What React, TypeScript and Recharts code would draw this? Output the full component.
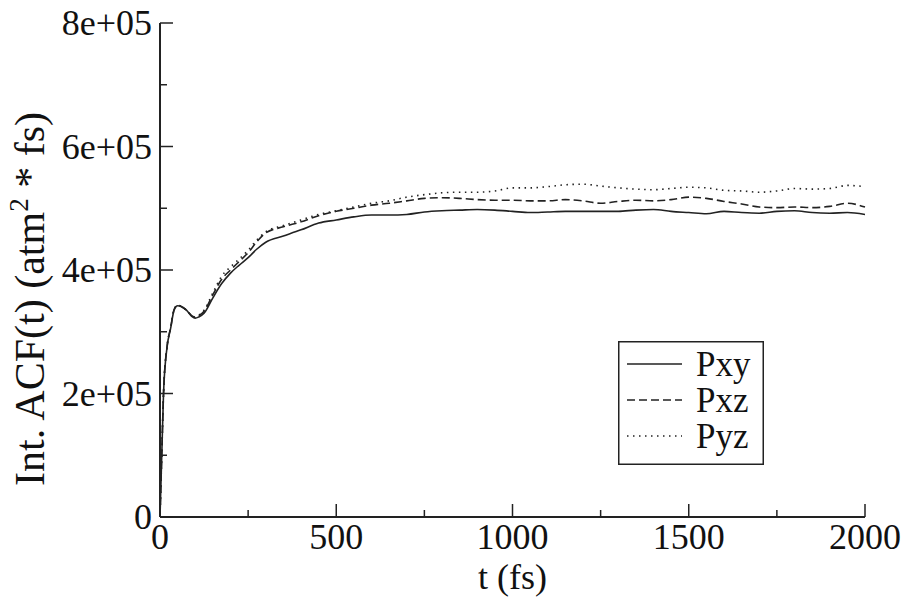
import React from 'react';
import { LineChart, Line, XAxis, YAxis, Legend } from 'recharts';

const times = [0, 5, 10, 20, 30, 40, 50, 60, 75, 90, 100, 110, 125, 150, 175, 200, 225, 250, 275, 300, 350, 400, 450, 500, 550, 600, 650, 700, 750, 800, 850, 900, 950, 1000, 1050, 1100, 1150, 1200, 1250, 1300, 1350, 1400, 1450, 1500, 1550, 1600, 1650, 1700, 1750, 1800, 1850, 1900, 1950, 2000];

const pxy = [0, 100000, 200000, 275000, 305000, 335000, 342000, 341000, 335000, 325000, 322000, 324000, 330000, 355000, 378000, 395000, 408000, 420000, 434000, 445000, 455000, 465000, 476000, 481000, 486000, 489000, 489000, 490000, 494000, 496000, 497000, 498000, 497000, 495000, 493000, 494000, 495000, 495000, 495000, 495000, 497000, 498000, 495000, 493000, 491000, 495000, 493000, 492000, 495000, 496000, 493000, 492000, 493000, 490000];

const pxz = [0, 100000, 200000, 276000, 306000, 336000, 343000, 341000, 335000, 326000, 323000, 326000, 333000, 360000, 385000, 400000, 414000, 428000, 446000, 460000, 470000, 478000, 488000, 495000, 500000, 505000, 508000, 512000, 516000, 517000, 516000, 514000, 513000, 513000, 512000, 512000, 514000, 512000, 508000, 511000, 513000, 512000, 514000, 518000, 516000, 511000, 507000, 502000, 501000, 502000, 501000, 503000, 508000, 502000];

const pyz = [0, 100000, 200000, 276000, 306000, 336000, 343000, 341000, 335000, 326000, 324000, 327000, 335000, 363000, 390000, 405000, 418000, 432000, 449000, 462000, 472000, 481000, 490000, 496000, 502000, 508000, 512000, 518000, 522000, 525000, 526000, 526000, 528000, 533000, 533000, 535000, 538000, 539000, 536000, 533000, 531000, 530000, 532000, 534000, 533000, 529000, 528000, 526000, 528000, 532000, 531000, 532000, 537000, 535000];

const seriesNames = ['Pxy', 'Pxz', 'Pyz'];
const seriesDashes = ['', '8 4', '1.5 4.5'];

const xTicks = [0, 250, 500, 750, 1000, 1250, 1500, 1750, 2000];
const xMajorTicks = [0, 500, 1000, 1500, 2000];
const xTickLabels = ['0', '500', '1000', '1500', '2000'];

const yTicks = [0, 100000, 200000, 300000, 400000, 500000, 600000, 700000, 800000];
const yMajorTicks = [0, 200000, 400000, 600000, 800000];
const yTickLabels = ['0', '2e+05', '4e+05', '6e+05', '8e+05'];

const xTitle = 't (fs)';
const yTitleMain = 'Int. ACF(t) (atm';
const yTitleSup = '2';
const yTitleEnd = ' * fs)';

const data = times.map((t, i) => ({ t, Pxy: pxy[i], Pxz: pxz[i], Pyz: pyz[i] }));

const FONT = 'Liberation Serif, Times New Roman, Times, serif';
const INK = '#222';
const MAJOR = 13;
const MINOR = 7;

const txt = (size: number): React.CSSProperties => ({ fontFamily: FONT, fontSize: size });

const BottomTick = (props: any) => {
  const { x, y, payload } = props;
  const idx = xMajorTicks.indexOf(payload.value);
  const major = idx >= 0;
  return (
    <g>
      <line x1={x} y1={y} x2={x} y2={y - (major ? MAJOR : MINOR)} stroke={INK} strokeWidth={1.5} />
      {major && (
        <text x={x} y={y + 32} textAnchor="middle" style={txt(36)} fill="#111">
          {xTickLabels[idx]}
        </text>
      )}
    </g>
  );
};

const TopTick = (props: any) => {
  const { x, y, payload } = props;
  const major = xMajorTicks.indexOf(payload.value) >= 0;
  return <line x1={x} y1={y} x2={x} y2={y + (major ? MAJOR : MINOR)} stroke={INK} strokeWidth={1.5} />;
};

const LeftTick = (props: any) => {
  const { x, y, payload } = props;
  const idx = yMajorTicks.indexOf(payload.value);
  const major = idx >= 0;
  return (
    <g>
      <line x1={x} y1={y} x2={x + (major ? MAJOR : MINOR)} y2={y} stroke={INK} strokeWidth={1.5} />
      {major && (
        <text x={x - 8} y={y + 12} textAnchor="end" style={txt(36)} fill="#111">
          {yTickLabels[idx]}
        </text>
      )}
    </g>
  );
};

const RightTick = (props: any) => {
  const { x, y, payload } = props;
  const major = yMajorTicks.indexOf(payload.value) >= 0;
  return <line x1={x} y1={y} x2={x - (major ? MAJOR : MINOR)} y2={y} stroke={INK} strokeWidth={1.5} />;
};

const YTitle = () => (
  <text x={44} y={299} transform="rotate(-90, 44, 299)" textAnchor="middle" style={txt(42)} fill="#111">
    {yTitleMain}
    <tspan style={txt(27)} dy={-16}>{yTitleSup}</tspan>
    <tspan dy={16}>{yTitleEnd}</tspan>
  </text>
);

const XTitle = () => (
  <text x={512.5} y={589} textAnchor="middle" style={txt(36)} fill="#111">
    {xTitle}
  </text>
);

const LegendBox = () => (
  <svg width={146} height={124} style={{ display: 'block' }}>
    <rect x={0.75} y={0.75} width={144.5} height={122.5} fill="#fff" stroke={INK} strokeWidth={1.5} />
    {seriesNames.map((name, i) => {
      const ly = 23 + i * 36;
      return (
        <g key={name}>
          <line x1={9} y1={ly} x2={64} y2={ly} stroke={INK} strokeWidth={1.5} strokeDasharray={seriesDashes[i] || undefined} />
          <text x={78} y={ly + 12} style={txt(35)} fill="#111">
            {name}
          </text>
        </g>
      );
    })}
  </svg>
);

export default function App() {
  return (
    <div style={{ position: 'absolute', left: 0, top: 0, width: 908, height: 598, background: '#fff' }}>
      <LineChart width={908} height={598} data={data} margin={{ top: 23, right: 43, bottom: 21, left: 60 }}>
        <XAxis
          xAxisId="b"
          dataKey="t"
          type="number"
          domain={[0, 2000]}
          ticks={xTicks}
          interval={0}
          height={60}
          tickSize={0}
          tickMargin={0}
          tickLine={false}
          axisLine={{ stroke: INK, strokeWidth: 2 }}
          tick={<BottomTick />}
          label={<XTitle />}
        />
        <XAxis
          xAxisId="t"
          orientation="top"
          dataKey="t"
          type="number"
          domain={[0, 2000]}
          ticks={xTicks}
          interval={0}
          height={0}
          tickSize={0}
          tickMargin={0}
          tickLine={false}
          axisLine={{ stroke: INK, strokeWidth: 2 }}
          tick={<TopTick />}
        />
        <YAxis
          yAxisId="l"
          type="number"
          domain={[0, 800000]}
          ticks={yTicks}
          interval={0}
          width={100}
          tickSize={0}
          tickMargin={0}
          tickLine={false}
          axisLine={{ stroke: INK, strokeWidth: 2 }}
          tick={<LeftTick />}
          label={<YTitle />}
        />
        <YAxis
          yAxisId="r"
          orientation="right"
          type="number"
          domain={[0, 800000]}
          ticks={yTicks}
          interval={0}
          width={0}
          tickSize={0}
          tickMargin={0}
          tickLine={false}
          axisLine={{ stroke: INK, strokeWidth: 2 }}
          tick={<RightTick />}
        />
        {seriesNames.map((name, i) => (
          <Line
            key={name}
            xAxisId="b"
            yAxisId="l"
            dataKey={name}
            type="monotone"
            stroke={INK}
            strokeWidth={1.6}
            strokeDasharray={seriesDashes[i] || undefined}
            dot={false}
            activeDot={false}
            isAnimationActive={false}
          />
        ))}
        <Legend
          layout="vertical"
          align="center"
          verticalAlign="middle"
          content={() => <LegendBox />}
          wrapperStyle={{ left: 618, top: 341, width: 146, height: 124, margin: 0, padding: 0 }}
        />
      </LineChart>
    </div>
  );
}
